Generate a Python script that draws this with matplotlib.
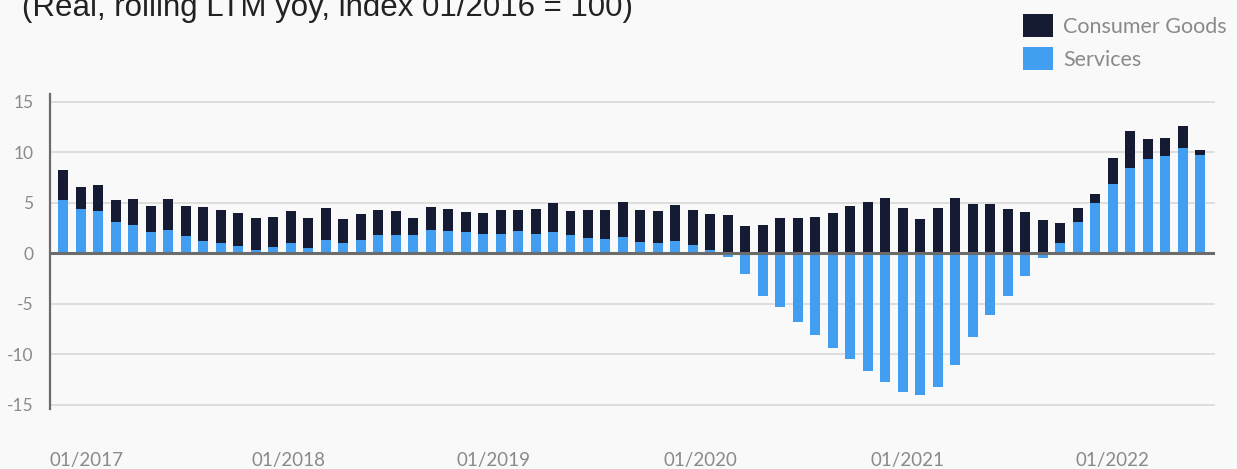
import matplotlib
matplotlib.use("Agg")
import matplotlib.pyplot as plt
from matplotlib.patches import Rectangle
import numpy as np

# ---------------- data ----------------
services = [5.27, 4.34, 4.18, 3.09, 2.82, 2.10, 2.30, 1.70, 1.20, 1.04, 0.71, 0.35,
            0.61, 1.00, 0.48, 1.34, 0.97, 1.34, 1.80, 1.83, 1.83, 2.30, 2.23, 2.13,
            1.86, 1.86, 2.23, 1.90, 2.13, 1.80, 1.47, 1.37, 1.57, 1.14, 1.00, 1.24,
            0.84, 0.35, -0.42, -2.10, -4.28, -5.37, -6.85, -8.14, -9.42, -10.50, -11.70, -12.80,
            -13.78, -14.08, -13.29, -11.11, -8.34, -6.16, -4.28, -2.30, -0.51, 1.04, 3.05, 4.97,
            6.88, 8.47, 9.36, 9.58, 10.38, 9.75]
consumer_goods = [2.93, 2.24, 2.57, 2.21, 2.58, 2.60, 3.07, 2.97, 3.34, 3.24, 3.29, 3.13,
                  3.00, 3.21, 2.97, 3.10, 2.45, 2.54, 2.44, 2.35, 1.69, 2.30, 2.14, 1.95,
                  2.08, 2.38, 2.08, 2.47, 2.87, 2.38, 2.81, 2.91, 3.46, 3.14, 3.18, 3.56,
                  3.44, 3.56, 3.81, 2.72, 2.82, 3.51, 3.51, 3.61, 4.00, 4.70, 5.10, 5.50,
                  4.50, 3.41, 4.50, 5.50, 4.90, 4.90, 4.40, 4.10, 3.31, 1.98, 1.42, 0.89,
                  2.57, 3.63, 1.94, 1.82, 2.17, 0.47]
x_labels = ["01/2017", "01/2018", "01/2019", "01/2020", "01/2021", "01/2022"]
y_ticks = [-15, -10, -5, 0, 5, 10, 15]
title = "(Real, rolling LTM yoy, index 01/2016 = 100)"
series_names = ["Consumer Goods", "Services"]

# ---------------- style ----------------
NAVY = "#141b33"
BLUE = "#429ef0"
BG = "#f9f9f9"
GRID = "#dcdcdc"
AXIS = "#6b6b6b"
TXT = "#8a8a8a"
W, H = 1237, 469

fig = plt.figure(figsize=(W / 100, H / 100), dpi=100, facecolor=BG)
ax = fig.add_axes([50 / W, 60 / H, (1215 - 50) / W, (409 - 94) / H], facecolor=BG)

n = len(services)
x = np.arange(n)
s = np.array(services)
g = np.array(consumer_goods)
pos_s = np.where(s > 0, s, 0)

ax.bar(x, s, width=0.57, color=BLUE, label=series_names[1], zorder=3)
ax.bar(x, g, bottom=pos_s, width=0.57, color=NAVY, label=series_names[0], zorder=3)

ax.set_xlim(-0.76, 65.85)
ax.set_ylim(-15.43, 15.76)

for v in y_ticks:
    if v != 0:
        ax.axhline(v, color=GRID, lw=1.3, zorder=1)
ax.axhline(0, color=AXIS, lw=2.2, zorder=4)

ax.set_yticks(y_ticks)
ax.set_yticklabels([str(v) for v in y_ticks])
xt_pos = [1.30, 12.9, 24.6, 36.43, 48.24, 59.96]
ax.set_xticks(xt_pos)
ax.set_xticklabels(x_labels)
ax.tick_params(axis="y", length=0, pad=12, labelsize=12.5, labelcolor=TXT)
ax.tick_params(axis="x", length=0, pad=31, labelsize=13.5, labelcolor=TXT)
for lab in ax.get_xticklabels() + ax.get_yticklabels():
    lab.set_family("Lato")

for sp in ["top", "right", "bottom"]:
    ax.spines[sp].set_visible(False)
ax.spines["left"].set_color(AXIS)
ax.spines["left"].set_linewidth(1.6)

fig.text(22 / W, 1 - 16 / H, title, family="Liberation Sans", fontsize=22.5,
         color="#222222", va="baseline", ha="left")

# legend (Consumer Goods first, then Services)
legend_items = [(series_names[0], NAVY, 14), (series_names[1], BLUE, 47)]
for name, col, top in legend_items:
    fig.patches.append(Rectangle((1023 / W, 1 - (top + 23) / H), 30 / W, 23 / H,
                                 transform=fig.transFigure, facecolor=col,
                                 edgecolor="none"))
    fig.text(1063 / W, 1 - (top + 19) / H, name, family="Lato", fontsize=15.5,
             color=TXT, va="baseline", ha="left")

fig.savefig("out.png", dpi=100, facecolor=BG)
